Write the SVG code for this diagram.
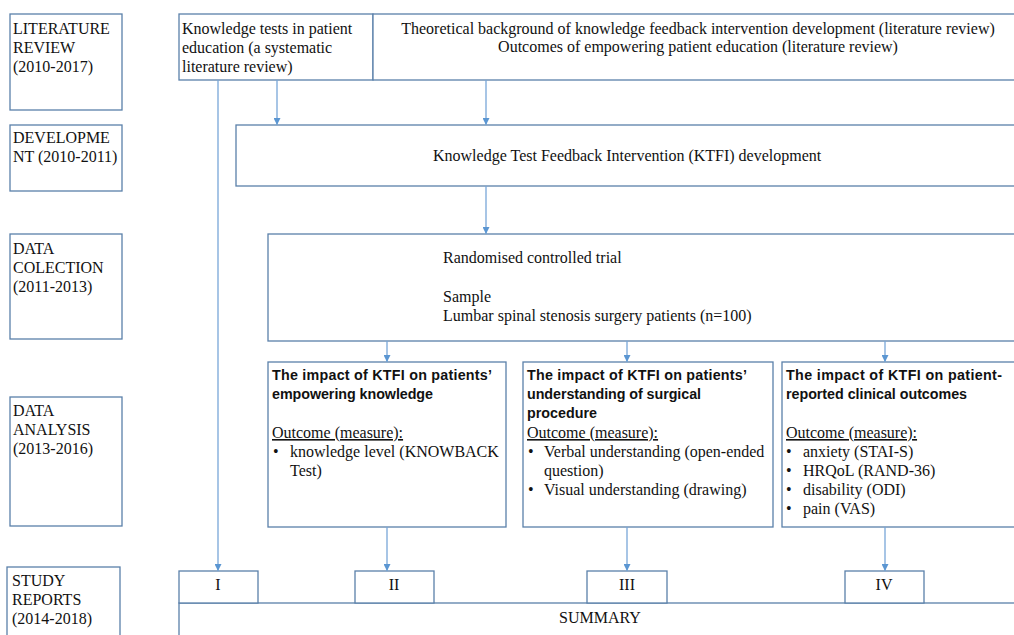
<svg xmlns="http://www.w3.org/2000/svg" width="1014" height="635" viewBox="0 0 1014 635">
<defs>
<style>
.box{fill:#fff;stroke:#5a80aa;stroke-width:1.3}
.t{font-family:"Liberation Serif","Times New Roman",serif;font-size:16px;fill:#111}
.b{font-family:"Liberation Sans",Arial,sans-serif;font-size:14.3px;font-weight:bold;fill:#111}
.u{text-decoration:underline}
.c{text-anchor:middle}
.con{stroke:#78a6d8;stroke-width:1.3;fill:none}
</style>
<marker id="ah" viewBox="0 0 10 10" refX="10" refY="5" markerWidth="7" markerHeight="7" markerUnits="userSpaceOnUse" orient="auto">
<path d="M0,0 L10,5 L0,10 z" fill="#5b96d2"/>
</marker>
</defs>
<rect width="1014" height="635" fill="#fff"/>

<g id="label-literature">
<rect class="box" x="10" y="14" width="112" height="96"/>
<text class="t" x="13" y="34">LITERATURE</text>
<text class="t" x="13" y="53">REVIEW</text>
<text class="t" x="13" y="72">(2010-2017)</text>
</g>
<g id="label-development">
<rect class="box" x="10" y="125" width="112" height="66"/>
<text class="t" x="13" y="143">DEVELOPME</text>
<text class="t" x="13" y="162">NT (2010-2011)</text>
</g>
<g id="label-collection">
<rect class="box" x="10" y="234" width="112" height="105"/>
<text class="t" x="13" y="254">DATA</text>
<text class="t" x="13" y="273">COLECTION</text>
<text class="t" x="13" y="292">(2011-2013)</text>
</g>
<g id="label-analysis">
<rect class="box" x="10" y="397" width="112" height="129"/>
<text class="t" x="13" y="416">DATA</text>
<text class="t" x="13" y="435">ANALYSIS</text>
<text class="t" x="13" y="454">(2013-2016)</text>
</g>
<g id="label-reports">
<rect class="box" x="7" y="567" width="113" height="75"/>
<text class="t" x="12" y="586">STUDY</text>
<text class="t" x="12" y="605">REPORTS</text>
<text class="t" x="12" y="624">(2014-2018)</text>
</g>

<g id="knowledge-tests">
<rect class="box" x="179" y="14" width="194" height="66"/>
<text class="t" x="182" y="34">Knowledge tests in patient</text>
<text class="t" x="182" y="53">education (a systematic</text>
<text class="t" x="182" y="72">literature review)</text>
</g>
<g id="theoretical">
<rect class="box" x="373" y="14" width="650" height="66"/>
<text class="t c" x="698" y="34">Theoretical background of knowledge feedback intervention development (literature review)</text>
<text class="t c" x="698" y="52">Outcomes of empowering patient education (literature review)</text>
</g>
<g id="ktfi-dev">
<rect class="box" x="236" y="125" width="790" height="61"/>
<text class="t" x="433" y="161">Knowledge Test Feedback Intervention (KTFI) development</text>
</g>
<g id="rct">
<rect class="box" x="268" y="234" width="760" height="107"/>
<text class="t" x="443" y="263">Randomised controlled trial</text>
<text class="t" x="443" y="302">Sample</text>
<text class="t" x="443" y="321">Lumbar spinal stenosis surgery patients (n=100)</text>
</g>
<g id="analysis-1">
<rect class="box" x="268" y="362" width="238" height="165"/>
<text class="b" x="272" y="380" textLength="220">The impact of KTFI on patients’</text>
<text class="b" x="272" y="399" textLength="161">empowering knowledge</text>
<text class="t u" x="272" y="438">Outcome (measure):</text>
<text class="t" x="273" y="457">•</text>
<text class="t" x="290" y="457">knowledge level (KNOWBACK</text>
<text class="t" x="290" y="476">Test)</text>
</g>
<g id="analysis-2">
<rect class="box" x="523" y="362" width="250" height="165"/>
<text class="b" x="527" y="380" textLength="220">The impact of KTFI on patients’</text>
<text class="b" x="527" y="399" textLength="174">understanding of surgical</text>
<text class="b" x="527" y="418">procedure</text>
<text class="t u" x="527" y="438">Outcome (measure):</text>
<text class="t" x="528" y="457">•</text>
<text class="t" x="544" y="457">Verbal understanding (open-ended</text>
<text class="t" x="544" y="476">question)</text>
<text class="t" x="528" y="495">•</text>
<text class="t" x="544" y="495">Visual understanding (drawing)</text>
</g>
<g id="analysis-3">
<rect class="box" x="782" y="362" width="250" height="165"/>
<text class="b" x="786" y="380" textLength="216">The impact of KTFI on patient-</text>
<text class="b" x="786" y="399" textLength="181">reported clinical outcomes</text>
<text class="t u" x="786" y="438">Outcome (measure):</text>
<text class="t" x="786" y="457">•</text>
<text class="t" x="803" y="457">anxiety (STAI-S)</text>
<text class="t" x="786" y="476">•</text>
<text class="t" x="803" y="476">HRQoL (RAND-36)</text>
<text class="t" x="786" y="495">•</text>
<text class="t" x="803" y="495">disability (ODI)</text>
<text class="t" x="786" y="514">•</text>
<text class="t" x="803" y="514">pain (VAS)</text>
</g>
<g id="summary">
<rect class="box" x="179" y="603" width="850" height="50"/>
<text class="t c" x="600" y="623">SUMMARY</text>
</g>
<g id="report-I">
<rect class="box" x="179" y="571" width="79" height="32"/>
<text class="t c" x="218" y="590">I</text>
</g>
<g id="report-II">
<rect class="box" x="355" y="571" width="79" height="32"/>
<text class="t c" x="394" y="590">II</text>
</g>
<g id="report-III">
<rect class="box" x="587" y="571" width="80" height="32"/>
<text class="t c" x="627" y="590">III</text>
</g>
<g id="report-IV">
<rect class="box" x="845" y="571" width="79" height="32"/>
<text class="t c" x="884" y="590">IV</text>
</g>

<g id="connectors">
<line class="con" x1="218" y1="80" x2="218" y2="571" marker-end="url(#ah)"/>
<line class="con" x1="277" y1="80" x2="277" y2="125" marker-end="url(#ah)"/>
<line class="con" x1="486" y1="80" x2="486" y2="125" marker-end="url(#ah)"/>
<line class="con" x1="486" y1="186" x2="486" y2="234" marker-end="url(#ah)"/>
<line class="con" x1="387" y1="341" x2="387" y2="362" marker-end="url(#ah)"/>
<line class="con" x1="627" y1="341" x2="627" y2="362" marker-end="url(#ah)"/>
<line class="con" x1="885" y1="341" x2="885" y2="362" marker-end="url(#ah)"/>
<line class="con" x1="387" y1="527" x2="387" y2="571" marker-end="url(#ah)"/>
<line class="con" x1="627" y1="527" x2="627" y2="571" marker-end="url(#ah)"/>
<line class="con" x1="885" y1="527" x2="885" y2="571" marker-end="url(#ah)"/>
</g>
</svg>
